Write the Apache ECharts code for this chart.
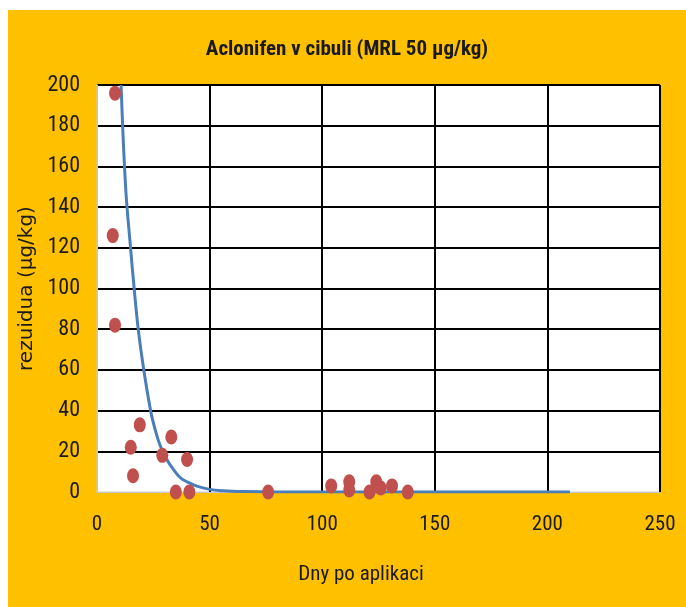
<!DOCTYPE html>
<html>
<head>
<meta charset="utf-8">
<script src="https://cdn.jsdelivr.net/npm/echarts@6/dist/echarts.min.js"></script>
<style>
  html, body { margin: 0; padding: 0; background: #fff; }
  #chart { position: absolute; left: 8px; top: 10px; width: 678px; height: 597px; background: #FFC000; }
</style>
</head>
<body>
<div id="chart"></div>
<script>
// measured residues (days after application, µg/kg)
const pointDays = [8, 7, 8, 19, 15, 16, 33, 29, 40, 35, 41, 76, 104, 112, 112, 121, 124, 126, 131, 138]
const pointValues = [196, 126, 82, 33, 22, 8, 27, 18, 16, 0, 0, 0, 3, 5, 1, 0, 5, 2, 3, 0]

// trend curve
const trendDays = [10.7, 12.7, 14.9, 16.5, 18.3, 20.5, 23.8, 26, 28, 31, 34, 37, 40, 44, 50, 56, 65, 80, 100, 150, 210]
const trendValues = [200, 150, 120, 100, 80, 62, 40, 30, 23, 16, 11, 7, 5, 3, 1.3, 0.6, 0.2, 0, 0, 0, 0]

const xTicks = [0, 50, 100, 150, 200, 250]
const yTicks = [0, 20, 40, 60, 80, 100, 120, 140, 160, 180, 200]

const narrow = "'Liberation Sans Narrow', 'Roboto Condensed', sans-serif"

let chart = echarts.init(document.getElementById('chart'))

let option = {
  animation: false,
  title: {
    text: 'Aclonifen v cibuli (MRL 50 µg/kg)',
    left: 'center',
    top: 24,
    textStyle: { fontFamily: narrow, fontSize: 21, fontWeight: 'bold', color: '#1a1a1a' }
  },
  grid: {
    left: 89,
    right: 26,
    top: 75,
    bottom: 115,
    show: true,
    backgroundColor: '#fff',
    borderColor: '#c8c8c8',
    borderWidth: 1
  },
  xAxis: {
    type: 'value',
    min: xTicks[0],
    max: xTicks[xTicks.length - 1],
    interval: 50,
    name: 'Dny po aplikaci',
    nameLocation: 'middle',
    nameGap: 72,
    nameTextStyle: { fontFamily: narrow, fontSize: 21, color: '#1a1a1a', padding: [0, 35, 0, 0] },
    axisLine: { show: true, lineStyle: { color: '#c8c8c8', width: 1 } },
    axisTick: { show: false },
    axisLabel: { margin: 22, fontFamily: narrow, fontSize: 21, color: '#1a1a1a' },
    splitLine: { show: true, showMinLine: false, lineStyle: { color: '#000', width: 2 } }
  },
  yAxis: {
    type: 'value',
    min: yTicks[0],
    max: yTicks[yTicks.length - 1],
    interval: 20,
    name: 'rezuidua (µg/kg)',
    nameLocation: 'middle',
    nameGap: 54,
    nameTextStyle: { fontFamily: "'DejaVu Sans', sans-serif", fontSize: 20, color: '#1a1a1a' },
    axisLine: { show: true, lineStyle: { color: '#c8c8c8', width: 1 } },
    axisTick: { show: false },
    axisLabel: { margin: 17, fontFamily: narrow, fontSize: 22, color: '#1a1a1a' },
    splitLine: { show: true, showMinLine: false, lineStyle: { color: '#000', width: 2 } }
  },
  series: [
    {
      type: 'line',
      data: trendDays.map((d, i) => [d, trendValues[i]]),
      smooth: 0.4,
      showSymbol: false,
      clip: true,
      lineStyle: { color: '#4A7EBB', width: 3 },
      z: 2
    },
    {
      type: 'scatter',
      data: pointDays.map((d, i) => [d, pointValues[i]]),
      symbol: 'circle',
      symbolSize: [12, 15],
      clip: false,
      itemStyle: { color: '#C0504D', opacity: 1 },
      z: 3
    }
  ]
}

option && chart.setOption(option)
</script>
</body>
</html>
